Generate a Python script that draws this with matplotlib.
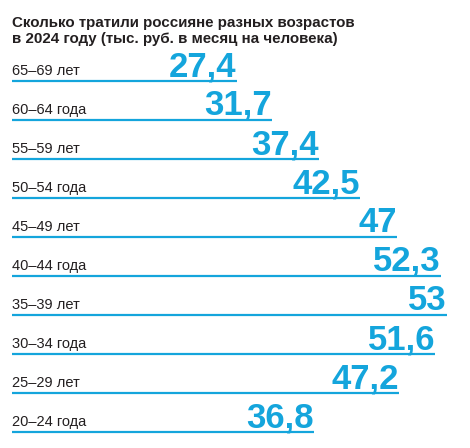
import matplotlib
matplotlib.use('Agg')
import matplotlib.pyplot as plt

plt.rcParams['font.family'] = ['Liberation Sans', 'DejaVu Sans']

AGES = ['65–69 лет', '60–64 года', '55–59 лет', '50–54 года', '45–49 лет',
        '40–44 года', '35–39 лет', '30–34 года', '25–29 лет', '20–24 года']
SPENDING = [27.4, 31.7, 37.4, 42.5, 47, 52.3, 53, 51.6, 47.2, 36.8]
TITLE = ['Сколько тратили россияне разных возрастов',
         'в 2024 году (тыс. руб. в месяц на человека)']

BLUE = '#14a5dc'
DARK = '#231f20'

W, H = 470, 448
fig = plt.figure(figsize=(W / 100, H / 100), dpi=100)

# pixel layout: first row line at y=81, rows 39px apart, 8.2px per unit
row0, step = 81, 39
top_px = row0 - 0.5 * step
bot_px = row0 + 9.3 * step
ax = fig.add_axes([12 / W, (H - bot_px) / H, 458 / W, (bot_px - top_px) / H])
ax.set_xlim(0, 458 / 8.2)
ax.set_ylim(9.3, -0.5)
ax.axis('off')

for i, (age, val) in enumerate(zip(AGES, SPENDING)):
    ax.hlines(i, 0, val, color=BLUE, linewidth=1.6)
    ax.annotate(age, (0, i), xytext=(0, 4.3), textcoords='offset points',
                ha='left', va='baseline', fontsize=10.5, color=DARK)
    label = ('%g' % val).replace('.', ',')
    ax.annotate(label, (val, i), xytext=(0, 3.6), textcoords='offset points',
                ha='right', va='baseline', fontsize=25, fontweight='bold',
                color=BLUE)

fig.text(12 / W, 1 - 27 / H, TITLE[0], ha='left', va='baseline',
         fontsize=10.9, fontweight='bold', color=DARK)
fig.text(12 / W, 1 - 43 / H, TITLE[1], ha='left', va='baseline',
         fontsize=10.9, fontweight='bold', color=DARK)

fig.savefig('out.png', dpi=100)
